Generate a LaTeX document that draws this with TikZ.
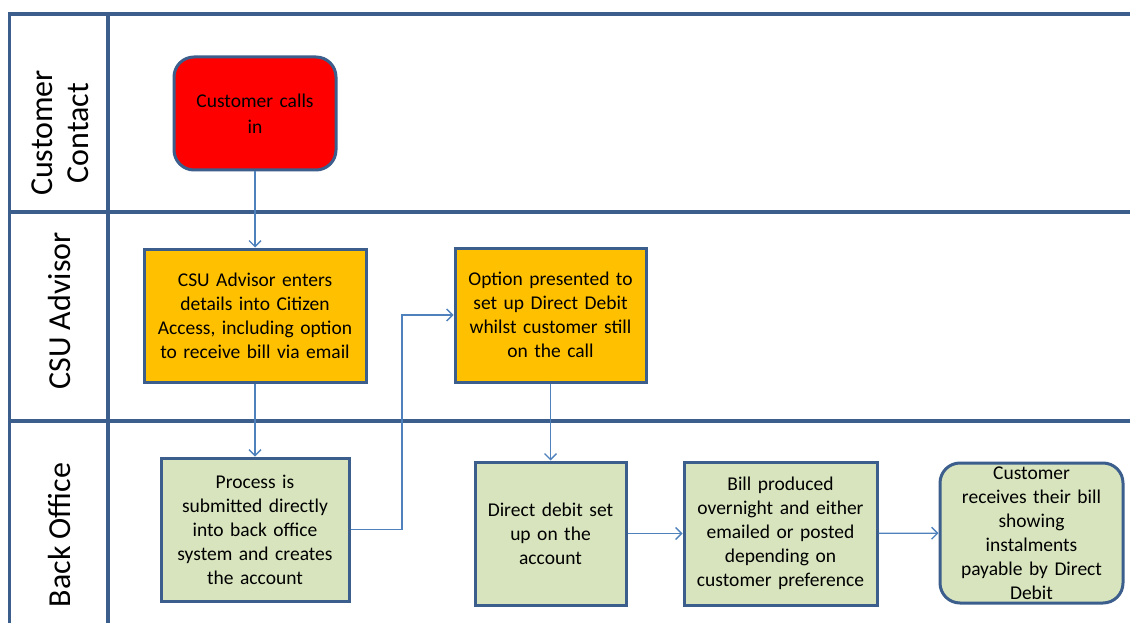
\documentclass[tikz,border=0pt]{standalone}
\usepackage{fontspec}
\setmainfont{Carlito}
\usetikzlibrary{arrows.meta}
\definecolor{lane}{HTML}{3B5E8C}
\definecolor{arr}{HTML}{4F81BD}
\definecolor{red1}{HTML}{FF0000}
\definecolor{amber}{HTML}{FFC000}
\definecolor{green1}{HTML}{D7E4BD}
\tikzset{
  box/.style={draw=lane, line width=3pt, align=center, inner sep=2pt,
    font=\fontsize{19.5}{24}\selectfont, text=black},
  lanelabel/.style={rotate=90, align=center, font=\fontsize{32}{36}\selectfont},
  flow/.style={draw=arr, line width=1.3pt, -{Straight Barb[length=6pt,width=12pt,line width=1.3pt]}},
  laneline/.style={draw=lane, line width=3.5pt}
}
\begin{document}
\begin{tikzpicture}[x=1pt,y=-1pt]
\useasboundingbox (0,0) rectangle (1130,623);
% lanes
\draw[laneline] (8,14) -- (1130,14);
\draw[laneline] (8,212) -- (1130,212);
\draw[laneline] (8,421) -- (1130,421);
\draw[laneline] (9.5,12.5) -- (9.5,623);
\draw[laneline] (108,12.5) -- (108,623);
\node[lanelabel] (l1) at (60,133) {Customer\\Contact};
\node[lanelabel] (l2) at (60,311) {CSU Advisor};
\node[lanelabel] (l3) at (60,535) {Back Office};
% boxes
\node[box, fill=red1, rounded corners=20pt, minimum width=162pt, minimum height=113pt, text width=155pt, font=\fontsize{19.5}{26}\selectfont] (a) at (255,113.5) {Customer calls\\in};
\node[box, fill=amber, minimum width=222pt, minimum height=133pt, text width=218pt] (b) at (255,315.5) {CSU Advisor enters\\details into Citizen\\Access, including option\\to receive bill via email};
\node[box, fill=amber, minimum width=191pt, minimum height=134pt, text width=187pt] (c) at (550.5,315) {Option presented to\\set up Direct Debit\\whilst customer still\\on the call};
\node[box, fill=green1, minimum width=188pt, minimum height=143pt, text width=184pt] (d) at (255,529.5) {Process is\\submitted directly\\into back office\\system and creates\\the account};
\node[box, fill=green1, minimum width=151pt, minimum height=143pt, text width=147pt] (e) at (550.5,533.5) {Direct debit set\\up on the\\account};
\node[box, fill=green1, minimum width=193pt, minimum height=143pt, text width=189pt] (f) at (780.5,533.5) {Bill produced\\overnight and either\\emailed or posted\\depending on\\customer preference};
\node[box, fill=green1, rounded corners=20pt, minimum width=183pt, minimum height=140pt, text width=179pt, inner sep=0pt] (g) at (1031.5,533) {Customer\\receives their bill\\showing\\instalments\\payable by Direct\\Debit};
% arrows
\coordinate (k1) at (402,529.5);
\coordinate (k2) at (402,315);
\draw[flow] (a) -- (b);
\draw[flow] (b) -- (d);
\draw[flow] (d.east) -- (k1) -- (k2) -- (c.west);
\draw[flow] (c) -- (e);
\draw[flow] (e) -- (f);
\draw[flow] (f) -- (g);
\end{tikzpicture}
\end{document}
